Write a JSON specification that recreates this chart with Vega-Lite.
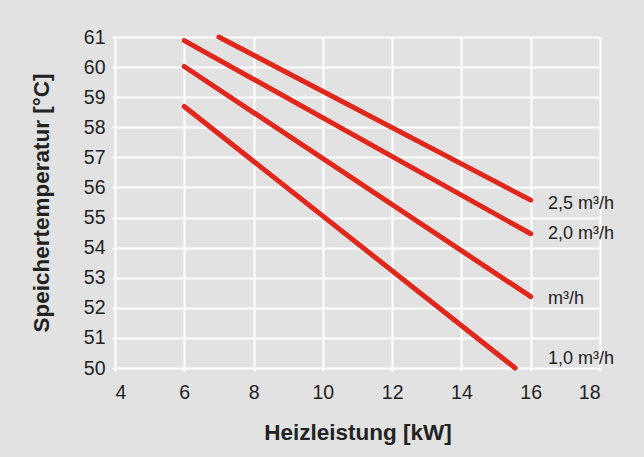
{
  "$schema": "https://vega.github.io/schema/vega-lite/v6.json",
  "width": 485,
  "height": 331,
  "autosize": {"type": "none"},
  "padding": {"left": 115, "top": 37, "right": 44, "bottom": 89},
  "background": "#e2e2e2",
  "config": {
    "view": {"stroke": null, "fill": "#e2e2e2"},
    "font": "Liberation Sans",
    "axis": {
      "gridColor": "#ffffff",
      "gridWidth": 2,
      "gridOpacity": 1,
      "domain": false,
      "tickColor": "#ffffff",
      "tickWidth": 2,
      "tickSize": 3,
      "labelOverlap": false,
      "labelFont": "Liberation Sans",
      "labelFontSize": 19.5,
      "labelColor": "#222222",
      "titleFont": "Liberation Sans",
      "titleFontSize": 22.5,
      "titleFontWeight": "bold",
      "titleColor": "#222222"
    }
  },
  "datasets": {
    "lines": [
      {"series": "2,5", "kw": 7, "temp": 61.0},
      {"series": "2,5", "kw": 16, "temp": 55.58},
      {"series": "2,0", "kw": 6, "temp": 60.88},
      {"series": "2,0", "kw": 16, "temp": 54.46},
      {"series": "1,5", "kw": 6, "temp": 60.02},
      {"series": "1,5", "kw": 16, "temp": 52.37},
      {"series": "1,0", "kw": 6, "temp": 58.69},
      {"series": "1,0", "kw": 15.55, "temp": 50.0}
    ],
    "labels": [
      {"label": "2,5 m³/h", "kw": 16.5, "temp": 55.45},
      {"label": "2,0 m³/h", "kw": 16.5, "temp": 54.45},
      {"label": "m³/h", "kw": 16.5, "temp": 52.3},
      {"label": "1,0 m³/h", "kw": 16.5, "temp": 50.3}
    ]
  },
  "encoding": {
    "x": {
      "field": "kw", "type": "quantitative",
      "scale": {"domain": [4, 18], "nice": false, "zero": false},
      "axis": {"values": [4, 6, 8, 10, 12, 14, 16, 18], "labelOverlap": false, "title": "Heizleistung [kW]", "labelPadding": 12, "titlePadding": 20}
    },
    "y": {
      "field": "temp", "type": "quantitative",
      "scale": {"domain": [50, 61], "nice": false, "zero": false},
      "axis": {"values": [50, 51, 52, 53, 54, 55, 56, 57, 58, 59, 60, 61], "labelOverlap": false, "title": "Speichertemperatur [°C]", "labelPadding": 7, "titlePadding": 30}
    }
  },
  "layer": [
    {
      "data": {"name": "lines"},
      "mark": {"type": "line", "color": "#e1261c", "strokeWidth": 5, "strokeCap": "round"},
      "encoding": {
        "detail": {"field": "series"}
      }
    },
    {
      "data": {"name": "labels"},
      "mark": {"type": "text", "align": "left", "baseline": "middle", "fontSize": 18, "color": "#222222", "font": "Liberation Sans"},
      "encoding": {
        "text": {"field": "label"}
      }
    }
  ]
}
